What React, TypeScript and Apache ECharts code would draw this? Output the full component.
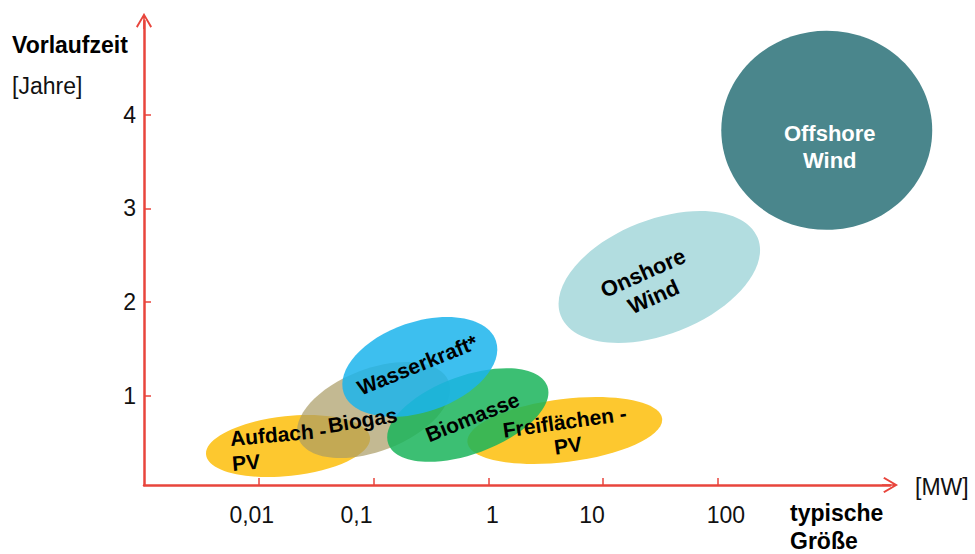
import React, { useEffect, useRef } from 'react';
import * as echarts from 'echarts';

// ---- data ----
const technologies = ['Aufdach-PV', 'Freiflächen-PV', 'Biogas', 'Biomasse', 'Wasserkraft*', 'Onshore Wind', 'Offshore Wind'];
const labelTexts = ['Aufdach -\nPV', 'Freiflächen -\nPV', 'Biogas', 'Biomasse', 'Wasserkraft*', 'Onshore\nWind', 'Offshore\nWind'];
const typicalSizeMW = [0.018, 4.64, 0.1, 0.663, 0.253, 30.9, 889];
const leadTimeYears = [0.466, 0.632, 0.85, 0.797, 1.31, 2.27, 3.834];
const sizeSpreadDecades = [0.718, 0.854, 0.7, 0.737, 0.701, 0.923, 0.919];
const leadTimeSpreadYears = [0.32, 0.336, 0.44, 0.416, 0.48, 0.612, 1.062];
const tiltDeg = [6, 7, 21, 20, 19, 21.5, 0];
const xTickValuesMW = [0.01, 0.1, 1, 10, 100];
const xTickLabels = ['0,01', '0,1', '1', '10', '100'];
const yTickValues = [1, 2, 3, 4];

// ---- styles ----
const FONT = '"Liberation Sans", Arial, Helvetica, sans-serif';
const AXIS_RED = '#E8453C';
const fills = [
  '#FDC82F',
  '#FDC82F',
  'rgba(170,155,100,0.7)',
  'rgba(26,180,90,0.85)',
  'rgba(27,180,236,0.85)',
  '#B2DDE0',
  '#4A868C',
];
const labelStyles = [
  { dx: -57, dy: 5, rot: 5, align: 'left', size: 21, lh: 25, color: '#000' },
  { dx: 1.5, dy: 3, rot: 8, align: 'center', size: 21, lh: 24, color: '#000' },
  { dx: -11, dy: 10, rot: 9, align: 'center', size: 21, lh: 24, color: '#000' },
  { dx: 4.5, dy: 2, rot: 22, align: 'center', size: 21, lh: 24, color: '#000' },
  { dx: -2.5, dy: -2, rot: 22, align: 'center', size: 21, lh: 24, color: '#000' },
  { dx: -11, dy: 8, rot: 24, align: 'center', size: 22, lh: 26, color: '#000' },
  { dx: 3, dy: 16.5, rot: 0, align: 'center', size: 22, lh: 27, color: '#fff' },
];
// horizontal nudge of x tick labels (px) relative to their ticks
const xLabelShift = [-7, -17, 4, -11, 8];

const ARROW = 'path://M10,0 L20,17 L18,18.5 L10,4.5 L2,18.5 L0,17 Z M9,1 L11,1 L11,20 L9,20 Z';

export default function App() {
  const ref = useRef<HTMLDivElement>(null);

  useEffect(() => {
    if (!ref.current) return;
    const chart = echarts.init(ref.current, null, { renderer: 'svg' });
    const seriesData = technologies.map((name, i) => ({
      name,
      value: [
        Math.log10(typicalSizeMW[i]),
        leadTimeYears[i],
        sizeSpreadDecades[i],
        leadTimeSpreadYears[i],
        tiltDeg[i],
      ],
    }));

    const rich: any = {};
    xTickLabels.forEach((_, k) => {
      const s = xLabelShift[k];
      rich['l' + k] = {
        fontSize: 23,
        fontFamily: FONT,
        color: '#111',
        padding: s < 0 ? [0, -2 * s, 0, 0] : [0, 0, 0, 2 * s],
      };
    });

    const option: any = {
      animation: false,
      grid: { left: 144, right: 85, top: 21, bottom: 69, containLabel: false },
      xAxis: {
        type: 'value',
        min: -3,
        max: 3.5,
        splitLine: { show: false },
        axisLine: {
          show: true,
          onZero: false,
          lineStyle: { color: AXIS_RED, width: 2.5 },
          symbol: ['none', ARROW],
          symbolSize: [16, 16],
        },
        axisTick: {
          show: true,
          inside: true,
          length: 7,
          lineStyle: { color: AXIS_RED, width: 1.5 },
          customValues: xTickValuesMW.map((v) => Math.log10(v)),
        },
        axisLabel: {
          customValues: xTickValuesMW.map((v) => Math.log10(v)),
          margin: 18,
          color: '#111',
          fontSize: 23,
          fontFamily: FONT,
          rich,
          formatter: (v: number) => {
            let best = 0;
            xTickValuesMW.forEach((m, k) => {
              if (Math.abs(Math.log10(m) - v) < Math.abs(Math.log10(xTickValuesMW[best]) - v)) best = k;
            });
            return `{l${best}|${xTickLabels[best]}}`;
          },
        },
      },
      yAxis: {
        type: 'value',
        min: 0.05,
        max: 5,
        splitLine: { show: false },
        axisLine: {
          show: true,
          onZero: false,
          lineStyle: { color: AXIS_RED, width: 2.5 },
          symbol: ['none', ARROW],
          symbolSize: [16, 16],
        },
        axisTick: {
          show: true,
          inside: true,
          length: 7,
          lineStyle: { color: AXIS_RED, width: 1.5 },
          customValues: yTickValues,
        },
        axisLabel: {
          customValues: yTickValues,
          margin: 8,
          color: '#111',
          fontSize: 23,
          fontFamily: FONT,
          formatter: (v: number) => String(v),
        },
      },
      graphic: [
        { type: 'text', left: 12, top: 33, style: { text: 'Vorlaufzeit', font: `bold 23px ${FONT}`, fill: '#000' } },
        { type: 'text', left: 12, top: 74, style: { text: '[Jahre]', font: `23px ${FONT}`, fill: '#111' } },
        { type: 'text', left: 915, top: 475, style: { text: '[MW]', font: `23px ${FONT}`, fill: '#111' } },
        { type: 'text', left: 790, top: 501, style: { text: 'typische', font: `bold 23px ${FONT}`, fill: '#000' } },
        { type: 'text', left: 790, top: 529, style: { text: 'Größe', font: `bold 23px ${FONT}`, fill: '#000' } },
      ],
      series: [
        {
          type: 'custom',
          coordinateSystem: 'cartesian2d',
          encode: { x: 0, y: 1 },
          clip: false,
          data: seriesData,
          renderItem: (params: any, api: any) => {
            const i = params.dataIndex;
            const c = api.coord([api.value(0), api.value(1)]);
            const rx = api.size([api.value(2), 0])[0];
            const ry = api.size([0, api.value(3)])[1];
            const rot = (api.value(4) * Math.PI) / 180;
            const ls = labelStyles[i];
            return {
              type: 'group',
              children: [
                {
                  type: 'ellipse',
                  x: c[0],
                  y: c[1],
                  rotation: rot,
                  shape: { cx: 0, cy: 0, rx, ry },
                  style: { fill: fills[i] },
                  z2: i,
                },
                {
                  type: 'text',
                  x: c[0] + ls.dx,
                  y: c[1] + ls.dy,
                  rotation: (ls.rot * Math.PI) / 180,
                  z2: 100,
                  style: {
                    text: labelTexts[i],
                    fill: ls.color,
                    fontSize: ls.size,
                    fontWeight: 'bold',
                    fontFamily: FONT,
                    align: ls.align,
                    verticalAlign: 'middle',
                    lineHeight: ls.lh,
                  },
                },
              ],
            };
          },
        },
      ],
    };
    chart.setOption(option);
    return () => chart.dispose();
  }, []);

  return (
    <div
      ref={ref}
      style={{ position: 'fixed', left: 0, top: 0, width: 975, height: 554, background: '#fff' }}
    />
  );
}
